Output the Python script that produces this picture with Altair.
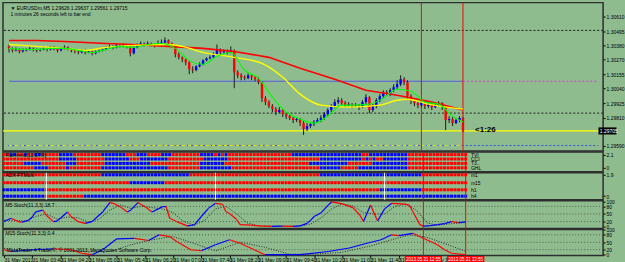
import altair as alt
import pandas as pd

# ---------------- EURUSDm M5 candles, 31 May 2013 03:00 .. 13:55 ----------------
bar_open = [
    1.30374, 1.30358, 1.30342, 1.30350, 1.30334, 1.30342, 1.30350, 1.30358, 1.30350, 1.30342,
    1.30350, 1.30358, 1.30350, 1.30366, 1.30358, 1.30342, 1.30358, 1.30366, 1.30350, 1.30342,
    1.30334, 1.30326, 1.30342, 1.30326, 1.30334, 1.30319, 1.30334, 1.30342, 1.30350, 1.30366,
    1.30374, 1.30366, 1.30382, 1.30374, 1.30382, 1.30374, 1.30319, 1.30366, 1.30389, 1.30397,
    1.30389, 1.30397, 1.30389, 1.30382, 1.30397, 1.30405, 1.30421, 1.30397, 1.30382, 1.30311,
    1.30287, 1.30271, 1.30248, 1.30193, 1.30185, 1.30216, 1.30232, 1.30263, 1.30279, 1.30287,
    1.30311, 1.30342, 1.30326, 1.30334, 1.30326, 1.30342, 1.30169, 1.30145, 1.30130, 1.30122,
    1.30145, 1.30130, 1.30114, 1.30090, 1.29964, 1.29933, 1.29901, 1.29878, 1.29854, 1.29870,
    1.29838, 1.29822, 1.29807, 1.29791, 1.29799, 1.29767, 1.29720, 1.29744, 1.29759, 1.29775,
    1.29791, 1.29807, 1.29838, 1.29870, 1.29901, 1.29933, 1.29948, 1.29925, 1.29909, 1.29917,
    1.29901, 1.29909, 1.29893, 1.29933, 1.29972, 1.29870, 1.29901, 1.29948, 1.29980, 1.30011,
    1.29996, 1.30027, 1.30051, 1.30074, 1.30114, 1.30090, 1.29980, 1.29948, 1.29925, 1.29909,
    1.29933, 1.29901, 1.29917, 1.29893, 1.29909, 1.29925, 1.29893, 1.29791, 1.29799, 1.29767,
    1.29791, 1.29807,
]
bar_close = [
    1.30358, 1.30342, 1.30350, 1.30334, 1.30342, 1.30350, 1.30358, 1.30350, 1.30342, 1.30350,
    1.30358, 1.30350, 1.30366, 1.30358, 1.30342, 1.30358, 1.30366, 1.30350, 1.30342, 1.30334,
    1.30326, 1.30342, 1.30326, 1.30334, 1.30319, 1.30334, 1.30342, 1.30350, 1.30366, 1.30374,
    1.30366, 1.30382, 1.30374, 1.30382, 1.30374, 1.30319, 1.30366, 1.30389, 1.30397, 1.30389,
    1.30397, 1.30389, 1.30382, 1.30397, 1.30405, 1.30421, 1.30397, 1.30382, 1.30311, 1.30287,
    1.30271, 1.30248, 1.30193, 1.30185, 1.30216, 1.30232, 1.30263, 1.30279, 1.30287, 1.30311,
    1.30342, 1.30326, 1.30334, 1.30326, 1.30342, 1.30169, 1.30145, 1.30130, 1.30122, 1.30145,
    1.30130, 1.30114, 1.30090, 1.29964, 1.29933, 1.29901, 1.29878, 1.29854, 1.29870, 1.29838,
    1.29822, 1.29807, 1.29791, 1.29799, 1.29767, 1.29720, 1.29744, 1.29759, 1.29775, 1.29791,
    1.29807, 1.29838, 1.29870, 1.29901, 1.29933, 1.29948, 1.29925, 1.29909, 1.29917, 1.29901,
    1.29909, 1.29893, 1.29933, 1.29972, 1.29870, 1.29901, 1.29948, 1.29980, 1.30011, 1.29996,
    1.30027, 1.30051, 1.30074, 1.30114, 1.30090, 1.29980, 1.29948, 1.29925, 1.29909, 1.29933,
    1.29901, 1.29917, 1.29893, 1.29909, 1.29925, 1.29893, 1.29791, 1.29799, 1.29767, 1.29791,
    1.29807, 1.29705,
]
bar_high = [
    1.30389, 1.30366, 1.30366, 1.30358, 1.30358, 1.30358, 1.30374, 1.30366, 1.30358, 1.30358,
    1.30366, 1.30366, 1.30374, 1.30374, 1.30366, 1.30366, 1.30382, 1.30374, 1.30358, 1.30350,
    1.30342, 1.30350, 1.30350, 1.30342, 1.30342, 1.30342, 1.30350, 1.30358, 1.30374, 1.30389,
    1.30382, 1.30397, 1.30389, 1.30397, 1.30389, 1.30389, 1.30374, 1.30397, 1.30413, 1.30405,
    1.30413, 1.30405, 1.30397, 1.30421, 1.30429, 1.30445, 1.30429, 1.30405, 1.30389, 1.30326,
    1.30295, 1.30279, 1.30256, 1.30216, 1.30224, 1.30248, 1.30271, 1.30287, 1.30303, 1.30326,
    1.30389, 1.30358, 1.30350, 1.30350, 1.30374, 1.30350, 1.30185, 1.30161, 1.30145, 1.30161,
    1.30153, 1.30137, 1.30130, 1.30098, 1.29980, 1.29948, 1.29917, 1.29893, 1.29893, 1.29878,
    1.29854, 1.29838, 1.29822, 1.29815, 1.29807, 1.29783, 1.29767, 1.29775, 1.29791, 1.29807,
    1.29830, 1.29854, 1.29885, 1.29917, 1.29956, 1.29972, 1.29964, 1.29941, 1.29933, 1.29925,
    1.29925, 1.29917, 1.29948, 1.29996, 1.29980, 1.29917, 1.29964, 1.29996, 1.30027, 1.30027,
    1.30043, 1.30074, 1.30106, 1.30145, 1.30130, 1.30106, 1.29996, 1.29964, 1.29941, 1.29948,
    1.29941, 1.29933, 1.29925, 1.29925, 1.29941, 1.29933, 1.29901, 1.29822, 1.29815, 1.29807,
    1.29822, 1.29815,
]
bar_low = [
    1.30326, 1.30326, 1.30334, 1.30319, 1.30326, 1.30334, 1.30342, 1.30334, 1.30326, 1.30334,
    1.30342, 1.30334, 1.30342, 1.30342, 1.30326, 1.30334, 1.30350, 1.30342, 1.30326, 1.30319,
    1.30311, 1.30319, 1.30311, 1.30319, 1.30303, 1.30311, 1.30326, 1.30334, 1.30342, 1.30358,
    1.30350, 1.30358, 1.30366, 1.30366, 1.30358, 1.30295, 1.30311, 1.30358, 1.30382, 1.30374,
    1.30382, 1.30374, 1.30366, 1.30374, 1.30389, 1.30397, 1.30382, 1.30366, 1.30287, 1.30271,
    1.30248, 1.30224, 1.30153, 1.30161, 1.30177, 1.30208, 1.30224, 1.30256, 1.30271, 1.30279,
    1.30303, 1.30311, 1.30319, 1.30311, 1.30319, 1.30043, 1.30122, 1.30106, 1.30106, 1.30114,
    1.30106, 1.30098, 1.30074, 1.29933, 1.29909, 1.29885, 1.29854, 1.29830, 1.29846, 1.29815,
    1.29799, 1.29791, 1.29767, 1.29775, 1.29744, 1.29673, 1.29704, 1.29728, 1.29744, 1.29767,
    1.29775, 1.29791, 1.29822, 1.29854, 1.29885, 1.29917, 1.29909, 1.29893, 1.29901, 1.29885,
    1.29893, 1.29870, 1.29885, 1.29917, 1.29846, 1.29854, 1.29885, 1.29933, 1.29964, 1.29980,
    1.29980, 1.30011, 1.30035, 1.30059, 1.30067, 1.29956, 1.29917, 1.29901, 1.29885, 1.29893,
    1.29878, 1.29885, 1.29870, 1.29885, 1.29901, 1.29870, 1.29712, 1.29767, 1.29744, 1.29759,
    1.29775, 1.29696,
]

# moving averages (bar index, value)
ma_slow_bar = [0, 8, 16, 28, 36, 46, 56, 65, 75, 84, 94, 103, 112, 122, 131]
ma_slow_val = [1.30421, 1.30421, 1.30413, 1.30397, 1.30389, 1.30374, 1.30358, 1.30334,
               1.30287, 1.30200, 1.30114, 1.30027, 1.29988, 1.29933, 1.29870]
ma_mid_bar = [0, 8, 16, 22, 28, 36, 46, 50, 56, 65, 73, 79, 84, 90, 98, 107, 112, 115, 121, 131]
ma_mid_val = [1.30389, 1.30374, 1.30358, 1.30342, 1.30366, 1.30382, 1.30389, 1.30374, 1.30326,
              1.30287, 1.30240, 1.30130, 1.29996, 1.29909, 1.29893, 1.29909, 1.29948, 1.29956,
              1.29917, 1.29878]
ma_fast_bar = [0, 4, 8, 12, 16, 20, 24, 28, 32, 36, 40, 44, 48, 52, 56, 60, 64, 68, 72, 76,
               80, 84, 88, 92, 96, 100, 104, 108, 112, 116, 120, 124, 128, 131]
ma_fast_val = [1.30358, 1.30350, 1.30350, 1.30358, 1.30358, 1.30342, 1.30326, 1.30350, 1.30374,
               1.30366, 1.30389, 1.30397, 1.30358, 1.30263, 1.30232, 1.30295, 1.30326, 1.30185,
               1.30122, 1.29972, 1.29854, 1.29799, 1.29767, 1.29822, 1.29909, 1.29909, 1.29917,
               1.29964, 1.30035, 1.30019, 1.29933, 1.29917, 1.29822, 1.29775]

# horizontal levels
dotted_levels = [1.30500, 1.29846]
level_upper = 1.30098
level_lower = 1.29590
bid_price = 1.29705
price_ticks = [1.30610, 1.30495, 1.30380, 1.30270, 1.30155, 1.30040, 1.29925, 1.29810, 1.29590]

# vertical markers
vline_bars = [119, 131]
vline_labels = ["2013.05.31 12:55", "2013.05.31 13:55"]
sep_bars = [12, 60, 108]

# time axis
tick_bars = [0, 8, 16, 24, 32, 40, 48, 56, 64, 72, 80, 88, 96, 104, 112, 120]
tick_labels = ["31 May 2013", "31 May 03:40", "31 May 04:20", "31 May 05:00", "31 May 05:40",
               "31 May 06:20", "31 May 07:00", "31 May 07:40", "31 May 08:20", "31 May 09:00",
               "31 May 09:40", "31 May 10:20", "31 May 11:00", "31 May 11:40", "31 May 12:20",
               "31 May 13:00"]

# signal panel 1 (r = red / bearish, b = blue / bullish)
sig1_names = ["TVI", "CCI", "T3..", "GHL"]
sig1_levels = [2.1, 1.4, 0.7, 0.0]
sig1_rows = [
    "rrbbrrbrrbb" + "r"*5 + "b"*4 + "r"*8 + "b"*7 + "r"*3 + "b"*3 + "r"*4 + "b"*3 + "r"*8
    + "b"*4 + "rbrbr" + "r"*17 + "b"*8 + "bbbbbbbbbbbbrrbbbbbbbbbbb" + "r"*17,
    "r"*16 + "b"*5 + "r"*8 + "b"*7 + "r"*3 + "b"*8 + "r"*10 + "b"*7 + "r"*26 + "b"*12
    + "rbrbrr" + "b"*7 + "r"*17,
    "r"*6 + "b"*5 + "r"*7 + "b"*3 + "r"*8 + "b"*13 + "r"*14 + "b"*7 + "r"*24 + "b"*11
    + "r"*7 + "b"*10 + "r"*17,
    "r"*9 + "b"*4 + "r"*5 + "b" + "r"*9 + "b"*19 + "r"*9 + "b"*9 + "r"*25 + "b"*6 + "r"*5
    + "b"*14 + "r"*17,
]
# signal panel 2
sig2_names = ["m1", "m15", "h1", "h4"]
sig2_levels = [1.9, 1.2, 0.57, 0.0]
sig2_rows = [
    "r"*28 + "b"*25 + "r"*37 + "b"*29 + "r"*13,
    "r"*36 + "b"*10 + "r"*86,
    "b"*12 + "r"*95 + "b"*12 + "r"*13,
    "b"*12 + "r"*11 + "b"*109,
]

# stochastics (bar index, value)
st5_bar = [0, 2, 4, 5, 7, 8, 9, 11, 12, 14, 15, 16, 18, 19, 21, 23, 25, 26, 28, 30, 31, 33, 35,
           36, 38, 39, 40, 42, 45, 46, 47, 49, 52, 54, 56, 58, 60, 62, 63, 64, 66, 67, 70, 73,
           76, 79, 82, 84, 86, 87, 88, 90, 92, 93, 96, 99, 101, 102, 104, 106, 108, 110, 113,
           115, 116, 118, 119, 121, 123, 125, 127, 129, 131]
st5_val = [20, 33, 20, 18, 25, 38, 58, 65, 45, 20, 22, 33, 58, 40, 20, 13, 20, 33, 58, 95, 92,
           78, 58, 66, 95, 86, 79, 58, 79, 79, 33, 20, 3, 7, 40, 72, 92, 88, 59, 52, 28, 8, 6,
           2, 1, 2, 1, 3, 13, 25, 40, 55, 85, 98, 90, 75, 45, 20, 85, 22, 70, 92, 90, 85, 60,
           8, 2, 4, 8, 12, 20, 16, 18.7]
sig5_bar = [0, 3, 6, 9, 12, 15, 18, 21, 24, 27, 30, 33, 36, 39, 42, 45, 48, 51, 54, 57, 60, 63,
            66, 69, 72, 76, 80, 84, 87, 90, 93, 96, 99, 102, 105, 108, 111, 114, 117, 120, 123,
            126, 129, 131]
sig5_val = [25, 25, 22, 40, 50, 30, 38, 35, 18, 30, 65, 85, 72, 80, 75, 70, 55, 20, 6, 25, 70,
            80, 50, 15, 4, 2, 2, 2, 10, 35, 70, 90, 82, 55, 50, 50, 80, 90, 65, 15, 5, 10, 14, 16]
st15_bar = [0, 2, 8, 14, 19, 22, 25, 28, 32, 37, 41, 44, 47, 49, 53, 56, 60, 64, 67, 71, 74,
            84, 92, 98, 103, 107, 110, 112, 116, 119, 123, 125, 127, 130, 131]
st15_val = [20, 13, 20, 24, 20, 6, 0, 20, 64, 66, 57, 80, 73, 53, 20, 16, 40, 60, 46, 20, 0, 0,
            13, 27, 46, 60, 80, 77, 86, 66, 40, 20, 6, 1, 0.4]
sig15_bar = [0, 8, 16, 24, 30, 36, 42, 48, 54, 60, 67, 74, 81, 88, 96, 104, 110, 115, 120, 126, 131]
sig15_val = [25, 18, 22, 12, 12, 40, 60, 73, 45, 15, 50, 30, 2, 2, 10, 35, 60, 80, 70, 40, 14]
stoch_ticks = [100, 80, 50, 20, 0]
stoch_levels = [80, 50, 20]

# texts
header_lines = ["\u25bc EURUSDm,M5  1.29626 1.29637 1.29561 1.29715",
                "1 minutes 26 seconds left to bar end"]
timer_text = "<1:26"
sig1_title = "Flat trend(11,ETR)"
sig2_title = "ADX-FTMulti"
st5_title = "M5-Stoch(11,3,3) 18.7"
st15_title = "M15-Stoch(11,3,3) 0.4"
copyright_text = "MetaTrader 4 Trader\u00a9, \u00a9 2001-2013, MetaQuotes Software Corp."

# ---------------- styling ----------------
BG = "#8FBC8F"
FONT = "Liberation Sans"
INK = "#000000"
W = 603
X_DOMAIN = [-0.3, 170.0]
xs = alt.Scale(domain=X_DOMAIN, nice=False, zero=False)
# one colour scale for the whole concatenated chart (concat shares colour scales)
DIRS = alt.Scale(domain=["up", "down"], range=["#0000FF", "#FF0000"])
CELL_DIR = {"b": "up", "r": "down"}


def xenc(field, axis=None):
    return alt.X(field, scale=xs, axis=axis)


def right_axis(values, fmt):
    return alt.Axis(orient="right", values=values, format=fmt, labelFontSize=5, labelFont=FONT,
                    labelColor=INK, tickSize=2, tickColor=INK, labelPadding=1, domain=False,
                    grid=False, title=None, labelOverlap=False)


def red_vlines(xaxis=None):
    return alt.Chart(pd.DataFrame({"bar": vline_bars})).mark_rule(
        color="#FF0000", strokeWidth=1).encode(x=xenc("bar:Q", xaxis))


def text_layer(df, yfun, xaxis=None, **kw):
    style = dict(align="left", baseline="middle", fontSize=5, font=FONT, color=INK)
    style.update(kw)
    return alt.Chart(df).mark_text(**style).encode(x=xenc("x:Q", xaxis), y=yfun("y:Q"),
                                                   text="t:N")


# ---------------- main price panel ----------------
main_ys = alt.Scale(domain=[1.29547, 1.30720], nice=False, zero=False)
main_ax = right_axis(price_ticks, ".5f")


def ym(f):
    return alt.Y(f, scale=main_ys, axis=main_ax)


candles = pd.DataFrame({"bar": list(range(len(bar_close))), "o": bar_open, "h": bar_high,
                        "l": bar_low, "c": bar_close})
candles["dir"] = ["up" if c >= o else "down" for o, c in zip(bar_open, bar_close)]

last = len(bar_close) - 1
main_layers = [
    alt.Chart(pd.DataFrame({"p": dotted_levels})).mark_rule(
        color="#1E1E1E", strokeDash=[2, 2], strokeWidth=1).encode(y=ym("p:Q")),
    alt.Chart(pd.DataFrame({"x": [0], "x2": [last], "p": [level_upper]})).mark_rule(
        color="#5A5AE6", strokeWidth=1.2).encode(x=xenc("x:Q"), x2="x2:Q", y=ym("p:Q")),
    alt.Chart(pd.DataFrame({"x": [last], "x2": [X_DOMAIN[1]], "p": [level_upper]})).mark_rule(
        color="#D040D0", strokeDash=[2, 2], strokeWidth=1).encode(x=xenc("x:Q"), x2="x2:Q",
                                                                   y=ym("p:Q")),
    alt.Chart(pd.DataFrame({"x": [X_DOMAIN[0]], "x2": [X_DOMAIN[1]], "p": [level_lower]})).mark_rule(
        color="#3050E0", strokeDash=[2, 2], strokeWidth=1).encode(x=xenc("x:Q"), x2="x2:Q",
                                                                   y=ym("p:Q")),
    alt.Chart(pd.DataFrame({"x": [0], "x2": [last], "p": [level_lower]})).mark_rule(
        color="#E8E800", strokeDash=[3, 3], strokeWidth=1).encode(x=xenc("x:Q"), x2="x2:Q",
                                                                   y=ym("p:Q")),
    alt.Chart(pd.DataFrame({"p": [bid_price]})).mark_rule(
        color="#FFFF00", strokeWidth=1.2).encode(y=ym("p:Q")),
    red_vlines(),
    alt.Chart(candles).mark_rule(color="#1C1C1C", strokeWidth=1).encode(
        x=xenc("bar:Q"), y=ym("l:Q"), y2="h:Q"),
    alt.Chart(candles).mark_bar(size=2.4).encode(
        x=xenc("bar:Q"), y=ym("o:Q"), y2="c:Q",
        color=alt.Color("dir:N", scale=DIRS, legend=None)),
    alt.Chart(pd.DataFrame({"bar": ma_slow_bar, "v": ma_slow_val})).mark_line(
        color="#FF0000", strokeWidth=1.6).encode(x=xenc("bar:Q"), y=ym("v:Q")),
    alt.Chart(pd.DataFrame({"bar": ma_mid_bar, "v": ma_mid_val})).mark_line(
        color="#FFFF00", strokeWidth=1.4, interpolate="monotone").encode(x=xenc("bar:Q"),
                                                                        y=ym("v:Q")),
    alt.Chart(pd.DataFrame({"bar": ma_fast_bar, "v": ma_fast_val})).mark_line(
        color="#00FF00", strokeWidth=1.1, interpolate="monotone").encode(x=xenc("bar:Q"),
                                                                        y=ym("v:Q")),
    text_layer(pd.DataFrame({"x": [0.4, 0.4], "y": [1.30681, 1.30626], "t": header_lines}), ym),
    text_layer(pd.DataFrame({"x": [134.5], "y": [bid_price + 0.00004], "t": [timer_text]}), ym,
               fontSize=8, fontWeight="bold"),
    alt.Chart(pd.DataFrame({"x": [170.1], "x2": [175.3], "y": [bid_price - 0.00028],
                            "y2": [bid_price + 0.00028]})).mark_rect(color="#000000").encode(
        x=xenc("x:Q"), x2="x2:Q", y=ym("y:Q"), y2="y2:Q"),
    text_layer(pd.DataFrame({"x": [170.5], "y": [bid_price], "t": [f"{bid_price:.5f}"]}), ym,
               color="#FFFFFF"),
]
main_panel = alt.layer(*main_layers).properties(width=W, height=149)


# ---------------- signal panels ----------------
def signal_panel(rows, levels, names, title, domain, height, ticks, separators=None):
    ys = alt.Scale(domain=domain, nice=False, zero=False)
    ax = right_axis(ticks, ".1~f")

    def ye(f):
        return alt.Y(f, scale=ys, axis=ax)

    cells = pd.DataFrame([{"bar": i, "lvl": lv, "dir": CELL_DIR[ch]}
                          for s, lv in zip(rows, levels) for i, ch in enumerate(s)])
    layers = [
        alt.Chart(cells).mark_square(size=9, opacity=1).encode(
            x=xenc("bar:Q"), y=ye("lvl:Q"), color=alt.Color("dir:N", scale=DIRS, legend=None)),
    ]
    if separators:
        layers.append(alt.Chart(pd.DataFrame({"bar": separators})).mark_rule(
            color="#FFFFFF", strokeWidth=1).encode(x=xenc("bar:Q")))
    layers += [
        red_vlines(),
        text_layer(pd.DataFrame({"x": [last + 1.5] * len(names), "y": levels, "t": names}), ye),
        text_layer(pd.DataFrame({"x": [0.4], "y": [levels[0]], "t": [title]}), ye),
    ]
    return alt.layer(*layers).properties(width=W, height=height)


sig1_panel = signal_panel(sig1_rows, sig1_levels, sig1_names, sig1_title, [-0.63, 2.525], 20,
                          [2.1, 0])
sig2_panel = signal_panel(sig2_rows, sig2_levels, sig2_names, sig2_title, [-0.31, 2.08], 27,
                          [1.9, 0], sep_bars)


# ---------------- stochastic panels ----------------
def segments(bars, vals):
    rows = []
    for i in range(len(bars) - 1):
        rows.append({"x": bars[i], "x2": bars[i + 1], "y": vals[i], "y2": vals[i + 1],
                     "dir": "up" if vals[i + 1] >= vals[i] else "down"})
    return pd.DataFrame(rows)


def stoch_panel(mb, mv, sb, sv, title, title_y, domain, height, xaxis=None, extra=None):
    ys = alt.Scale(domain=domain, nice=False, zero=False)
    ax = right_axis(stoch_ticks, "d")

    def ye(f):
        return alt.Y(f, scale=ys, axis=ax)

    layers = [
        alt.Chart(pd.DataFrame({"v": stoch_levels})).mark_rule(
            color="#506050", strokeDash=[1, 2], strokeWidth=1).encode(y=ye("v:Q")),
        red_vlines(xaxis),
        alt.Chart(pd.DataFrame({"b": sb, "v": sv})).mark_line(
            color="#2A2A2A", strokeDash=[1, 1.5], strokeWidth=1).encode(
            x=xenc("b:Q", xaxis), y=ye("v:Q")),
        alt.Chart(segments(mb, mv)).mark_rule(strokeWidth=1.2).encode(
            x=xenc("x:Q", xaxis), x2="x2:Q", y=ye("y:Q"), y2="y2:Q",
            color=alt.Color("dir:N", scale=DIRS, legend=None)),
        text_layer(pd.DataFrame({"x": [0.4], "y": [title_y], "t": [title]}), ye, xaxis),
    ]
    if extra:
        layers += extra(ye)
    return alt.layer(*layers).properties(width=W, height=height)


label_expr = " : ".join(f"datum.value == {b} ? '{t}'" for b, t in zip(tick_bars, tick_labels)) + " : ''"
bottom_axis = alt.Axis(values=tick_bars, labelExpr=label_expr, labelAlign="left", labelFontSize=5,
                       labelFont=FONT, labelColor=INK, labelPadding=0, tickSize=2, tickColor=INK,
                       domain=False, grid=False, title=None, labelOverlap=False, labelFlush=False,
                       labelBound=False)


def bottom_extras(ye):
    boxes = pd.DataFrame({"x": [b - 5.3 for b in vline_bars], "x2": [b + 5.3 for b in vline_bars],
                          "y": [-4.8] * len(vline_bars), "y2": [-32.8] * len(vline_bars)})
    return [
        text_layer(pd.DataFrame({"x": [0.8], "y": [17], "t": [copyright_text]}), ye, bottom_axis),
        alt.Chart(boxes).mark_rect(color="#FF0000").encode(
            x=xenc("x:Q", bottom_axis), x2="x2:Q", y=ye("y:Q"), y2="y2:Q"),
        text_layer(pd.DataFrame({"x": vline_bars, "y": [-19.5] * len(vline_bars),
                                 "t": vline_labels}), ye, bottom_axis, align="center",
                   color="#FFFFFF", fontSize=4.5),
    ]


st5_panel = stoch_panel(st5_bar, st5_val, sig5_bar, sig5_val, st5_title, 86.7, [-7.45, 102.4], 28)
st15_panel = stoch_panel(st15_bar, st15_val, sig15_bar, sig15_val, st15_title, 89,
                         [-2.8, 101.2], 26, bottom_axis, bottom_extras)

chart = alt.vconcat(main_panel, sig1_panel, sig2_panel, st5_panel, st15_panel,
                    spacing=1, bounds="flush").configure(
    background=BG, padding={"left": 1, "top": 0, "right": 0, "bottom": 0}, font=FONT
).configure_view(stroke="#2E2E2E", strokeWidth=1.5)

chart.save("out.html", embed_options={"renderer": "svg", "actions": False})
